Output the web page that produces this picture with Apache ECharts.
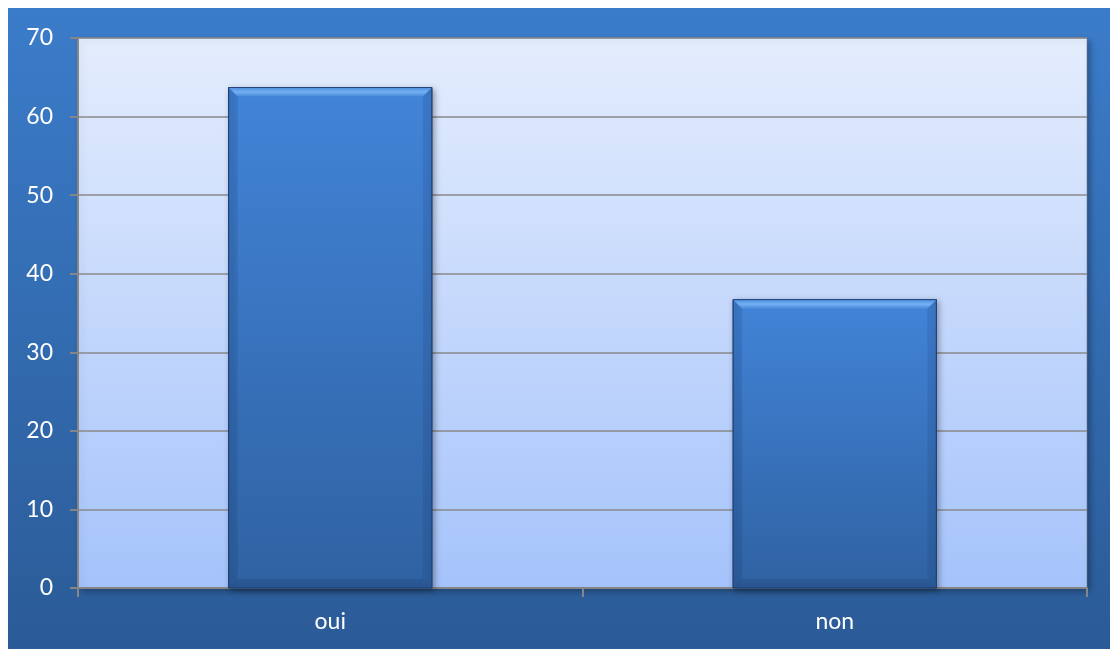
<!DOCTYPE html>
<html>
<head>
<meta charset="utf-8">
<style>
  html, body { margin: 0; padding: 0; background: #ffffff; }
  #chart { width: 1110px; height: 649px; }
</style>
<script src="https://cdn.jsdelivr.net/npm/echarts@6/dist/echarts.min.js"></script>
</head>
<body>
<div id="chart"></div>
<script>
// Answers and their shares
const categories = ['oui', 'non'];
const values = [63.7, 36.7];
const yTicks = [0, 10, 20, 30, 40, 50, 60, 70];

const chart = echarts.init(document.getElementById('chart'), null, { renderer: 'canvas' });

const lin = (x, y, x2, y2, stops) => ({
  type: 'linear', x, y, x2, y2,
  colorStops: stops.map(([o, c]) => ({ offset: o, color: c }))
});

// Bevelled bar: a face with lighter top edge and darker sides/bottom
function renderBar(params, api) {
  const idx = api.value(0);
  const val = api.value(1);
  const top = api.coord([idx, val]);
  const base = api.coord([idx, 0]);
  const w = api.size([1, 0])[0] * 0.403;
  const x0 = top[0] - w / 2, x1 = top[0] + w / 2;
  const y0 = top[1], y1 = base[1];
  const b = 9;
  return {
    type: 'group',
    children: [
      {
        type: 'rect',
        shape: { x: x0, y: y0, width: w, height: y1 - y0 },
        style: {
          fill: lin(0, 0, 0, 1, [[0, '#4284d8'], [1, '#2f62a2']]),
          stroke: '#2b5288', lineWidth: 1,
          shadowBlur: 6, shadowColor: 'rgba(0,0,0,0.35)', shadowOffsetX: 2, shadowOffsetY: 2
        }
      },
      {
        type: 'polygon',
        shape: { points: [[x0, y0], [x1, y0], [x1 - b, y0 + b], [x0 + b, y0 + b]] },
        style: { fill: lin(0, 0, 0, 1, [[0, '#4d8fe0'], [0.5, '#73b0f2'], [1, '#4a89da']]) }
      },
      {
        type: 'polygon',
        shape: { points: [[x0, y0], [x0 + b, y0 + b], [x0 + b, y1 - b], [x0, y1]] },
        style: { fill: 'rgba(20,50,100,0.14)' }
      },
      {
        type: 'polygon',
        shape: { points: [[x1, y0], [x1 - b, y0 + b], [x1 - b, y1 - b], [x1, y1]] },
        style: { fill: 'rgba(20,50,100,0.14)' }
      },
      {
        type: 'polygon',
        shape: { points: [[x0, y1], [x0 + b, y1 - b], [x1 - b, y1 - b], [x1, y1]] },
        style: { fill: 'rgba(20,45,90,0.18)' }
      },
      {
        type: 'rect',
        shape: { x: x0, y: y0, width: w, height: y1 - y0 },
        style: { fill: 'none', stroke: 'rgba(30,60,110,0.8)', lineWidth: 1 }
      }
    ]
  };
}

chart.setOption({
  animation: false,
  textStyle: { fontFamily: 'Lato, "Open Sans", sans-serif' },
  graphic: [{
    type: 'rect',
    z: -10,
    shape: { x: 8, y: 8, width: 1102, height: 641 },
    style: { fill: lin(0, 0, 0, 1, [[0, '#3b7cca'], [1, '#2b5b97']]) }
  }],
  grid: {
    left: 78, right: 23, top: 38, bottom: 61,
    show: true,
    backgroundColor: lin(0, 0, 0, 1, [[0, '#e4edfd'], [1, '#a5c3fb']]),
    borderColor: 'rgba(110,125,150,0.6)',
    borderWidth: 1,
    shadowBlur: 6, shadowColor: 'rgba(0,0,0,0.3)', shadowOffsetX: 3, shadowOffsetY: 3
  },
  xAxis: {
    type: 'category',
    data: categories,
    axisLine: { show: true, lineStyle: { color: '#868686', width: 2 } },
    axisTick: { show: true, alignWithLabel: false, length: 9, lineStyle: { color: '#868686', width: 2 } },
    axisLabel: { color: '#ffffff', fontSize: 23, margin: 22 },
    splitLine: { show: false }
  },
  yAxis: {
    type: 'value',
    min: yTicks[0], max: yTicks[yTicks.length - 1], interval: 10,
    axisLine: { show: true, lineStyle: { color: '#868686', width: 2 } },
    axisTick: { show: true, length: 8, lineStyle: { color: '#868686', width: 2 } },
    axisLabel: { color: '#ffffff', fontSize: 23, margin: 25 },
    splitLine: { show: true, lineStyle: { color: '#8a8a8a', width: 1.5 } }
  },
  series: [{
    type: 'custom',
    renderItem: renderBar,
    encode: { x: 0, y: 1 },
    data: values.map((v, i) => [i, v]),
    z: 3
  }]
});
</script>
</body>
</html>
